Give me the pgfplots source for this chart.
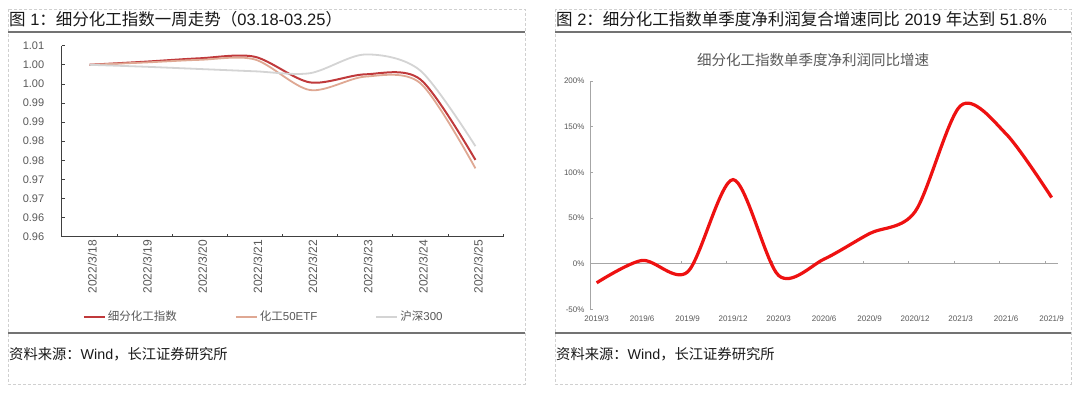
\documentclass[border=0pt]{standalone}
\usepackage{fontspec}
\setmainfont{Liberation Sans}
\newfontfamily\cjk{Noto Sans CJK SC}
\usepackage{pgfplots}
\pgfplotsset{compat=1.18}
\definecolor{sred}{HTML}{C0393B}
\definecolor{setf}{HTML}{DFA893}
\definecolor{shs}{HTML}{D4D4D4}
\definecolor{tgray}{HTML}{595959}
\definecolor{agray}{HTML}{404040}
\definecolor{lgray}{HTML}{A6A6A6}
\definecolor{frame}{HTML}{D0D0D0}
\definecolor{rline}{HTML}{EE1111}

\pgfplotstableread{
x red etf hs
0 1.0000 1.0000 1.0000
1 1.0008 1.0006 0.9995
2 1.0017 1.0013 0.9989
3 1.0021 1.0014 0.9983
4 0.9954 0.9934 0.9978
5 0.9975 0.9969 1.0027
6 0.9962 0.9952 0.9985
7 0.9751 0.9729 0.9787
}\weektable

\pgfplotstableread{
x val
0 -21
1 3.5
2 -9
3 92
4 -13
5 5
6 33
7 57
8 173
9 142
10 72.4
}\profittable

\begin{document}
\begin{tikzpicture}
\fill[white] (0pt,0pt) rectangle (1080pt,393pt);
% frames
\draw[frame, densely dashed, line width=0.6pt] (8pt,384pt) rectangle (525pt,9pt);
\draw[frame, densely dashed, line width=0.6pt] (555pt,384pt) rectangle (1071pt,9pt);
\draw[black!55, line width=1.4pt] (8pt,361pt) -- (525pt,361pt);
\draw[black!55, line width=1.4pt] (8pt,60pt) -- (525pt,60pt);
\draw[black!55, line width=1.4pt] (555pt,361pt) -- (1071pt,361pt);
\draw[black!55, line width=1.4pt] (555pt,60pt) -- (1071pt,60pt);
% titles
\node[anchor=base west, inner sep=0pt, font=\fontsize{16.5}{19}\selectfont, text=black!90] at (9pt,367pt)
  {{\cjk 图} 1{\cjk ：细分化工指数一周走势（}03.18-03.25{\cjk ）}};
\node[anchor=base west, inner sep=0pt, font=\fontsize{16.5}{19}\selectfont, text=black!90] at (556pt,367pt)
  {{\cjk 图} 2{\cjk ：细分化工指数单季度净利润复合增速同比} 2019 {\cjk 年达到} 51.8\%};
\node[anchor=base west, inner sep=0pt, font=\fontsize{14.3}{16}\selectfont, text=black!90] at (9pt,33pt)
  {{\cjk 资料来源：}Wind{\cjk ，长江证券研究所}};
\node[anchor=base west, inner sep=0pt, font=\fontsize{14.3}{16}\selectfont, text=black!90] at (556pt,33pt)
  {{\cjk 资料来源：}Wind{\cjk ，长江证券研究所}};
\node[inner sep=0pt, font=\fontsize{14.5}{16}\selectfont, text=tgray] at (813pt,333pt)
  {\cjk 细分化工指数单季度净利润同比增速};

% left chart
\begin{axis}[
  at={(61.7pt,156.3pt)}, anchor=south west,
  scale only axis, width=441.3pt, height=191pt,
  xmin=-0.5, xmax=7.5, ymin=0.955, ymax=1.005,
  axis lines*=left,
  axis line style={agray, line width=0.8pt},
  tick align=inside,
  tick style={agray, line width=0.6pt},
  major tick length=3pt, minor tick length=3pt,
  ytick={0.955,0.96,0.965,0.97,0.975,0.98,0.985,0.99,0.995,1.0,1.005},
  yticklabels={0.96,0.96,0.97,0.97,0.98,0.98,0.99,0.99,1.00,1.00,1.01},
  xtick={0,1,2,3,4,5,6,7},
  xticklabels={2022/3/18,2022/3/19,2022/3/20,2022/3/21,2022/3/22,2022/3/23,2022/3/24,2022/3/25},
  major x tick style={draw=none},
  minor xtick={0.5,1.5,2.5,3.5,4.5,5.5,6.5,7.5},
  ticklabel style={font=\fontsize{11}{13}\selectfont, text=tgray},
  xticklabel style={font=\fontsize{12}{14}\selectfont, rotate=90, anchor=east, yshift=-3pt},
  yticklabel style={xshift=-14pt},
  clip=false,
  legend columns=3,
  legend style={at={(0.0476,-0.419)}, anchor=west, draw=none, fill=none,
    inner sep=0pt, font=\fontsize{11.5}{13}\selectfont, text=tgray,
    /tikz/every even column/.append style={column sep=56pt}},
  legend image code/.code={\draw[#1, line width=2pt] (0pt,0pt) -- (21pt,0pt);},
]
\addplot[sred, line width=2pt, smooth, tension=0.5] table[x=x, y=red] {\weektable};
\addlegendentry{\cjk 细分化工指数}
\addplot[setf, line width=1.8pt, smooth, tension=0.5] table[x=x, y=etf] {\weektable};
\addlegendentry{{\cjk 化工}50ETF}
\addplot[shs, line width=1.8pt, smooth, tension=0.5] table[x=x, y=hs] {\weektable};
\addlegendentry{{\cjk 沪深}300}
\end{axis}

% right chart
\begin{axis}[
  at={(590pt,83.7pt)}, anchor=south west,
  scale only axis, width=468pt, height=228.3pt,
  xmin=-0.147, xmax=10.14, ymin=-50, ymax=200,
  axis y line*=left,
  axis x line*=bottom,
  x axis line style={draw=none},
  y axis line style={lgray, line width=0.8pt},
  tick align=inside,
  ytick={-50,0,50,100,150,200},
  yticklabels={-50\%,0\%,50\%,100\%,150\%,200\%},
  y tick style={lgray, line width=0.6pt},
  major tick length=3pt,
  xtick={0,1,2,3,4,5,6,7,8,9,10},
  xticklabels={2019/3,2019/6,2019/9,2019/12,2020/3,2020/6,2020/9,2020/12,2021/3,2021/6,2021/9},
  major x tick style={draw=none},
  ticklabel style={font=\fontsize{8}{10}\selectfont, text=tgray},
  xticklabel style={yshift=-2.5pt},
  yticklabel style={xshift=-2pt},
  clip=false,
]
\draw[lgray, line width=0.8pt] (axis cs:-0.147,0) -- (axis cs:10.14,0);
\pgfplotsinvokeforeach{0.853,1.853,2.853,3.853,4.853,5.853,6.853,7.853,8.853,9.853}{
  \draw[lgray, line width=0.6pt] (axis cs:#1,0) -- (axis cs:#1,3.3);
}
\addplot[rline, line width=3.2pt, smooth, tension=0.5] table[x=x, y=val] {\profittable};
\end{axis}
\end{tikzpicture}
\end{document}
